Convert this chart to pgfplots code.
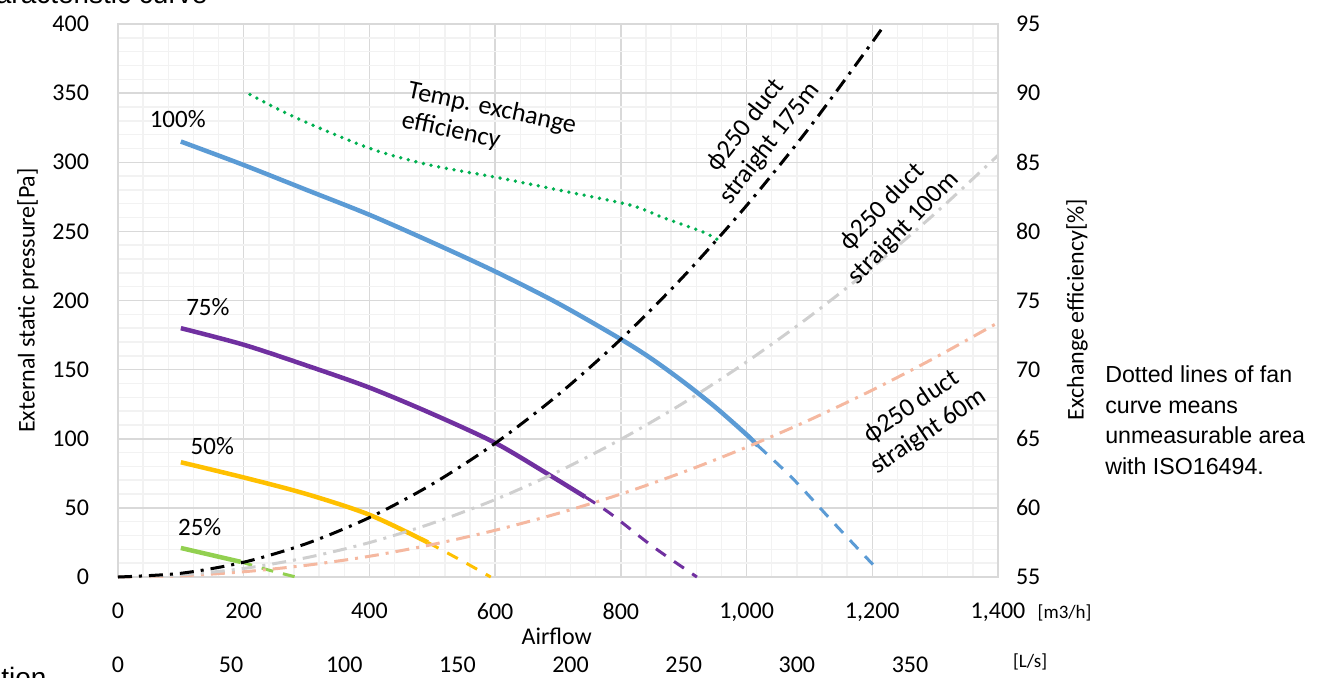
\documentclass[border=0pt]{standalone}
\usepackage{fontspec}
\setmainfont{Carlito}
\newfontfamily\arial{Liberation Sans}
\usepackage{pgfplots}
\pgfplotsset{compat=1.18}

\definecolor{majgrid}{HTML}{D9D9D9}
\definecolor{mingrid}{HTML}{F2F2F2}
\definecolor{fanblue}{HTML}{5B9BD5}
\definecolor{fanpurple}{HTML}{7030A0}
\definecolor{fanyellow}{HTML}{FFC000}
\definecolor{fangreen}{HTML}{92D050}
\definecolor{effgreen}{HTML}{00B050}
\definecolor{ductgray}{HTML}{CFCFCF}
\definecolor{ductpink}{HTML}{F5B8A0}

\newcommand{\tk}{\fontsize{12}{14}\selectfont}
\newcommand{\lb}{\fontsize{13}{15}\selectfont}

\pgfplotsset{
  fan/.style={line width=2.25pt, smooth},
  fandash/.style={line width=1.5pt, smooth, dash pattern=on 6pt off 5pt},
  duct/.style={line width=1.5pt, smooth, dash pattern=on 7pt off 3.5pt on 1.5pt off 3.5pt},
}

\begin{document}
\begin{tikzpicture}
\path[use as bounding box] (-59pt,-50pt) rectangle (610pt,288.5pt);
\clip (-59pt,-50pt) rectangle (610pt,288.5pt);

\begin{axis}[
  at={(0,0)}, anchor=south west,
  scale only axis, width=440pt, height=276.5pt,
  xmin=0, xmax=1400, ymin=0, ymax=400,
  xtick={0,200,...,1400}, ytick={0,50,...,400},
  minor x tick num=4, minor y tick num=4,
  grid=both,
  major grid style={draw=majgrid, line width=0.75pt},
  minor grid style={draw=mingrid, line width=0.75pt},
  axis line style={draw=majgrid, line width=0.75pt},
  major tick length=0pt, minor tick length=0pt,
  ticklabel style={font=\tk},
  /pgf/number format/assume math mode=true,
  /pgf/number format/1000 sep={,},
  xticklabel style={yshift=-9.5pt},
  yticklabel style={xshift=-11pt},
  clip=false,
]

% fan curves, measurable part
\addplot[fan, fanblue] coordinates {
  (100,315)(200,298)(300,280)(400,262)(500,242)(600,221)(700,198)(800,172)(850,157.5)(900,141)(950,123)(1000,103)(1018,95)};
\addplot[fandash, fanblue] coordinates {(1018,95)(1074,71)(1141,38)(1201,9)};

\addplot[fan, fanpurple] coordinates {
  (100,180)(200,168)(300,153)(400,137)(500,118)(600,97)(682,75)(743,58)};
\addplot[fandash, fanpurple] coordinates {(743,58)(783,46)(851,22)(921,0)};

\addplot[fan, fanyellow] coordinates {(100,83)(200,72)(300,60)(400,45)(493,25)};
\addplot[fandash, fanyellow] coordinates {(493,25)(550,11)(593,0)};

\addplot[fan, fangreen] coordinates {(100,21)(195,11)};
\addplot[fandash, fangreen] coordinates {(195,11)(240,5)(283,0)};

% duct resistance curves
\addplot[duct, ductpink] coordinates {
  (0,0)(100,0.9)(200,3.8)(300,8.5)(400,15)(500,23.5)(600,33.8)(700,46)(800,60)(900,76)(1000,93.9)(1100,113.6)(1200,135.2)(1300,158.7)(1400,184)};
\addplot[duct, ductgray] coordinates {
  (0,0)(100,1.6)(200,6.2)(300,14)(400,24.9)(500,38.9)(600,56)(700,76.2)(800,99.6)(900,126)(1000,155.6)(1100,188.3)(1200,224)(1300,263)(1400,305)};
\addplot[duct, black] coordinates {
  (0,0)(100,2.7)(200,10.7)(300,24.2)(400,43)(500,67.2)(600,96.7)(700,131.7)(800,172)(900,217.6)(1000,268.7)(1100,325.1)(1200,386.9)(1220,400)};

% annotations
\node[font=\fontsize{12.5}{14}\selectfont] at (axis cs:95,331) {100\%};
\node[font=\fontsize{12.5}{14}\selectfont] at (axis cs:143,195) {75\%};
\node[font=\fontsize{12.5}{14}\selectfont] at (axis cs:150,95) {50\%};
\node[font=\fontsize{12.5}{14}\selectfont] at (axis cs:130,36) {25\%};
\node[font=\lb, rotate=-12, align=left] at (axis cs:590,328) {Temp. exchange\\efficiency};
\node[font=\lb, rotate=52, align=center] at (axis cs:1018,320) {ϕ250 duct\\straight 175m};
\node[font=\lb, rotate=46, align=center] at (axis cs:1233,260) {ϕ250 duct\\straight 100m};
\node[font=\lb, rotate=34, align=center] at (axis cs:1276,114) {ϕ250 duct\\straight 60m};

% axis labels and units
\node[font=\tk] at (axis cs:698,0) [yshift=-29.5pt] {Airflow};
\node[font=\tk, rotate=90] at (rel axis cs:0,0.5) [yshift=45pt] {External static pressure[Pa]};
\node[font=\fontsize{9.5}{11}\selectfont] at (axis cs:1506,0) [yshift=-18pt] {[m3/h]};
\node[font=\fontsize{9.5}{11}\selectfont] at (axis cs:1451,0) [yshift=-42.5pt] {[L/s]};
\node[font=\tk] at (axis cs:0,0)    [yshift=-44pt] {0};
\node[font=\tk] at (axis cs:180,0)  [yshift=-44pt] {50};
\node[font=\tk] at (axis cs:360,0)  [yshift=-44pt] {100};
\node[font=\tk] at (axis cs:540,0)  [yshift=-44pt] {150};
\node[font=\tk] at (axis cs:720,0)  [yshift=-44pt] {200};
\node[font=\tk] at (axis cs:900,0)  [yshift=-44pt] {250};
\node[font=\tk] at (axis cs:1080,0) [yshift=-44pt] {300};
\node[font=\tk] at (axis cs:1260,0) [yshift=-44pt] {350};

% side note and cut-off texts
\node[font=\arial\fontsize{11.6}{15.3}\selectfont, anchor=north west, align=left, inner sep=0pt]
  at (axis cs:1570,153) {Dotted lines of fan\\curve means\\unmeasurable area\\with ISO16494.};
\node[font=\arial\fontsize{14}{16}\selectfont, anchor=base east, inner sep=0pt] at (axis cs:143,414.5) {Characteristic curve};
\node[font=\arial\fontsize{14}{16}\selectfont, anchor=base east, inner sep=0pt] at (axis cs:-113,-79.6) {ation};
\end{axis}

\begin{axis}[
  at={(0,0)}, anchor=south west,
  scale only axis, width=440pt, height=276.5pt,
  xmin=0, xmax=1400, ymin=55, ymax=95,
  axis x line=none, axis y line*=right,
  y axis line style={draw=majgrid, line width=0.75pt},
  ytick={55,60,...,95},
  major tick length=0pt,
  ticklabel style={font=\tk},
  /pgf/number format/assume math mode=true,
  yticklabel style={xshift=5.5pt},
  clip=false,
]
\addplot[effgreen, smooth, line width=1.9pt, line cap=round, dash pattern=on 0pt off 3.9pt] coordinates {
  (210,89.9)(284,88.2)(401,86.0)(496,84.8)(603,83.9)(700,83.0)(815,81.9)(867,81.0)(931,79.95)(961,79.2)};
\node[font=\tk, rotate=90] at (rel axis cs:1,0.5) [yshift=-39.5pt, xshift=-4.5pt] {Exchange efficiency[\%]};
\end{axis}
\end{tikzpicture}
\end{document}
